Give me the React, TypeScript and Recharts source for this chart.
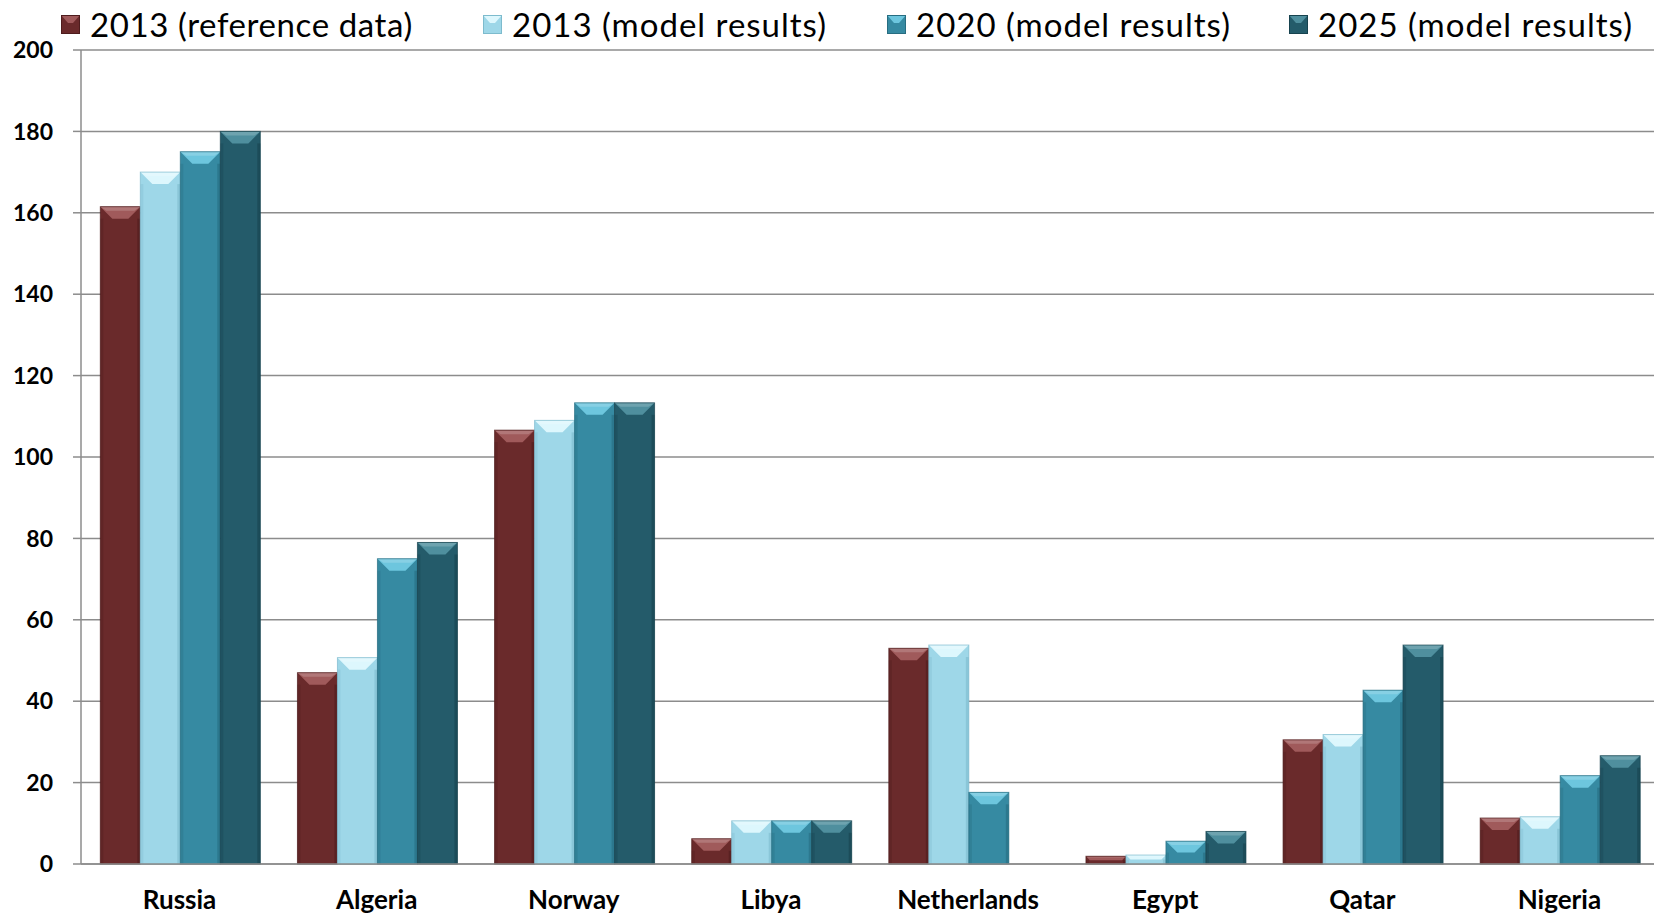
import React from 'react';
import {
  BarChart,
  Bar,
  XAxis,
  YAxis,
  CartesianGrid,
} from 'recharts';

const countries = ['Russia', 'Algeria', 'Norway', 'Libya', 'Netherlands', 'Egypt', 'Qatar', 'Nigeria'];
const ref2013 = [161.5, 47, 106.6, 6.2, 53, 1.9, 30.5, 11.3];
const model2013 = [170, 50.7, 109, 10.6, 53.8, 2.2, 31.8, 11.6];
const model2020 = [175, 75, 113.3, 10.6, 17.6, 5.6, 42.7, 21.7];
const model2025 = [180, 79, 113.3, 10.6, 0, 8, 53.8, 26.6];
const yTicks = [0, 20, 40, 60, 80, 100, 120, 140, 160, 180, 200];

const SERIES = [
  { key: 'ref2013', name: '2013 (reference data)', color: '#6A2A2B', top: '#A05A5B', side: '#4E1C1D', textLeft: 90 },
  { key: 'model2013', name: '2013 (model results)', color: '#9ED7E8', top: '#DDF7FD', side: '#7DBBCD', textLeft: 512 },
  { key: 'model2020', name: '2020 (model results)', color: '#368AA2', top: '#6DC6DE', side: '#276D81', textLeft: 916 },
  { key: 'model2025', name: '2025 (model results)', color: '#245B6A', top: '#4F8F9E', side: '#17434F', textLeft: 1318 },
];

const data = countries.map((name, i) => ({
  name,
  ref2013: ref2013[i],
  model2013: model2013[i],
  model2020: model2020[i],
  model2025: model2025[i],
}));

const FONT = 'Lato, "Open Sans", sans-serif';
const ICON = 19;

// bevelled bar, like the office 3d look
const BevelBar = (props: any) => {
  const { x, y, width: w, height: h, color, top, side } = props;
  if (!h || h <= 0) return null;
  const b = Math.min(12, h / 2, w / 2);
  const s = Math.min(3, w / 4);
  return (
    <g>
      <rect x={x} y={y} width={w} height={h} fill={color} />
      <polygon
        points={`${x},${y} ${x + w},${y} ${x + w - b},${y + b} ${x + b},${y + b}`}
        fill={top}
      />
      <polygon
        points={`${x},${y} ${x + w},${y} ${x + w - b / 2},${y + b / 3} ${x + b / 2},${y + b / 3}`}
        fill="#ffffff"
        fillOpacity={0.18}
      />
      <rect x={x} y={y + b} width={s} height={Math.max(0, h - b)} fill={side} fillOpacity={0.35} />
      <rect x={x + w - s} y={y + b} width={s} height={Math.max(0, h - b)} fill={side} fillOpacity={0.6} />
      <rect x={x} y={y} width={w} height={h} fill="none" stroke={side} strokeOpacity={0.7} strokeWidth={1} />
    </g>
  );
};

export default function App() {
  return (
    <div style={{ position: 'absolute', left: 0, top: 0, width: 1654, height: 915, background: '#fff', fontFamily: FONT, overflow: 'hidden' }}>
      {/* Legend */}
      {SERIES.map((s, i) => (
        <div
          key={s.key}
          style={{
            position: 'absolute',
            left: s.textLeft - 10 - ICON,
            top: 3,
            height: 42,
            display: 'flex',
            alignItems: 'center',
            gap: 10,
            whiteSpace: 'nowrap',
          }}
        >
          <svg width={ICON} height={ICON}>
            <rect x={0} y={0} width={ICON} height={ICON} fill={s.color} />
            <polygon points={`0,0 ${ICON},0 ${ICON - 7},8 7,8`} fill={s.top} />
            <rect x={0.5} y={0.5} width={ICON - 1} height={ICON - 1} fill="none" stroke={s.side} strokeWidth={1} />
          </svg>
          <span style={{ fontSize: 33, color: '#000', lineHeight: '42px', letterSpacing: i === 0 ? 0.6 : 1 }}>{s.name}</span>
        </div>
      ))}
      <BarChart
        width={1654}
        height={915}
        data={data}
        margin={{ top: 50, right: -4, bottom: 0, left: 0 }}
        barCategoryGap="9.8%"
        barGap={0}
      >
        <CartesianGrid vertical={false} stroke="#8C8C8C" strokeWidth={1.5} />
        <XAxis
          dataKey="name"
          height={51}
          tickLine={false}
          tickSize={6}
          tickMargin={21}
          axisLine={{ stroke: '#8C8C8C', strokeWidth: 1.5 }}
          tick={{ fill: '#000', fontSize: 26, fontWeight: 700, fontFamily: FONT }}
          interval={0}
        />
        <YAxis
          width={81}
          domain={[0, 200]}
          ticks={yTicks}
          tickSize={8}
          tickMargin={20}
          axisLine={{ stroke: '#8C8C8C', strokeWidth: 1.5 }}
          tickLine={{ stroke: '#8C8C8C', strokeWidth: 1.5 }}
          tick={{ fill: '#000', fontSize: 23, fontWeight: 700, fontFamily: FONT }}
        />
        {SERIES.map((s) => (
          <Bar
            key={s.key}
            dataKey={s.key}
            name={s.name}
            fill={s.color}
            isAnimationActive={false}
            shape={(p: any) => <BevelBar {...p} color={s.color} top={s.top} side={s.side} />}
          />
        ))}
      </BarChart>
    </div>
  );
}
